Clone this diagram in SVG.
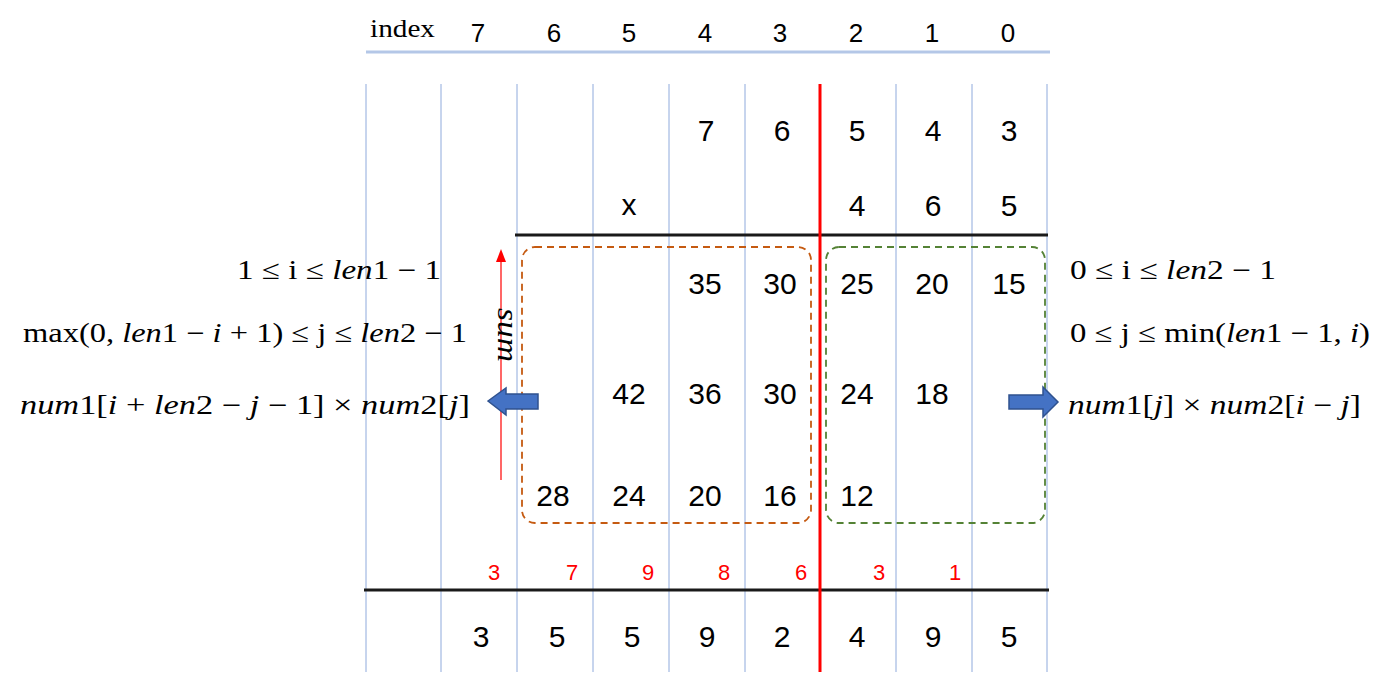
<svg xmlns="http://www.w3.org/2000/svg" width="1393" height="680" viewBox="0 0 1393 680">
<defs>
<style>
.grid{stroke:#8faadc;stroke-width:1}
.idx{font-family:"Liberation Sans",sans-serif;font-size:26px;text-anchor:middle;fill:#000}
.num{font-family:"Liberation Sans",sans-serif;font-size:30px;text-anchor:middle;fill:#000}
.carry{font-family:"Liberation Sans",sans-serif;font-size:22px;text-anchor:middle;fill:#ff0000}
.math{font-family:"Liberation Serif",serif;font-size:27px;fill:#000}
.it{font-style:italic}
.blk{stroke:#1a1a1a;stroke-width:3}
.barrow{fill:#4472c4;stroke:#2f528f;stroke-width:1.5}
</style>
</defs>
<rect width="1393" height="680" fill="#fff"/>

<g id="grid">
<line class="grid" x1="366" y1="84" x2="366" y2="672"/>
<line class="grid" x1="441" y1="84" x2="441" y2="672"/>
<line class="grid" x1="517" y1="84" x2="517" y2="672"/>
<line class="grid" x1="593" y1="84" x2="593" y2="672"/>
<line class="grid" x1="669" y1="84" x2="669" y2="672"/>
<line class="grid" x1="745" y1="84" x2="745" y2="672"/>
<line class="grid" x1="896" y1="84" x2="896" y2="672"/>
<line class="grid" x1="972" y1="84" x2="972" y2="672"/>
<line class="grid" x1="1047" y1="84" x2="1047" y2="672"/>
<line x1="366" y1="52" x2="1050" y2="52" stroke="#b4c7e7" stroke-width="3"/>
<line class="blk" x1="515" y1="235" x2="1048" y2="235"/>
<line class="blk" x1="364" y1="590" x2="1049" y2="590"/>
<line x1="820" y1="84" x2="820" y2="672" stroke="#ff0000" stroke-width="3"/>
</g>

<g id="index-row">
<text x="370" y="37" font-family="Liberation Serif,serif" font-size="25" fill="#000" textLength="65" lengthAdjust="spacingAndGlyphs">index</text>
<text class="idx" x="478" y="42">7</text>
<text class="idx" x="554" y="42">6</text>
<text class="idx" x="629" y="42">5</text>
<text class="idx" x="705" y="42">4</text>
<text class="idx" x="780" y="42">3</text>
<text class="idx" x="856" y="42">2</text>
<text class="idx" x="932" y="42">1</text>
<text class="idx" x="1008" y="42">0</text>
</g>

<g id="operands">
<text class="num" x="706" y="141">7</text>
<text class="num" x="782" y="141">6</text>
<text class="num" x="857" y="141">5</text>
<text class="num" x="933" y="141">4</text>
<text class="num" x="1009" y="141">3</text>
<text class="num" x="629" y="215">x</text>
<text class="num" x="857" y="216">4</text>
<text class="num" x="933" y="216">6</text>
<text class="num" x="1009" y="216">5</text>
</g>

<g id="products">
<text class="num" x="705" y="294">35</text>
<text class="num" x="780" y="294">30</text>
<text class="num" x="857" y="294">25</text>
<text class="num" x="932" y="294">20</text>
<text class="num" x="1009" y="294">15</text>
<text class="num" x="629" y="404">42</text>
<text class="num" x="705" y="404">36</text>
<text class="num" x="780" y="404">30</text>
<text class="num" x="857" y="404">24</text>
<text class="num" x="932" y="404">18</text>
<text class="num" x="553" y="506">28</text>
<text class="num" x="629" y="506">24</text>
<text class="num" x="705" y="506">20</text>
<text class="num" x="780" y="506">16</text>
<text class="num" x="857" y="506">12</text>
</g>

<g id="box-left">
<rect x="522" y="247" width="289" height="276" rx="13" fill="none" stroke="#c55a11" stroke-width="1.8" stroke-dasharray="7,5"/>
</g>
<g id="box-right">
<rect x="826" y="247" width="219" height="276" rx="13" fill="none" stroke="#548235" stroke-width="1.8" stroke-dasharray="7,5"/>
</g>

<g id="carries">
<text class="carry" x="494" y="580">3</text>
<text class="carry" x="572" y="580">7</text>
<text class="carry" x="648" y="580">9</text>
<text class="carry" x="724" y="580">8</text>
<text class="carry" x="801" y="580">6</text>
<text class="carry" x="879" y="580">3</text>
<text class="carry" x="955" y="580">1</text>
</g>

<g id="result">
<text class="num" x="481" y="647">3</text>
<text class="num" x="557" y="647">5</text>
<text class="num" x="632" y="647">5</text>
<text class="num" x="707" y="647">9</text>
<text class="num" x="782" y="647">2</text>
<text class="num" x="857" y="647">4</text>
<text class="num" x="933" y="647">9</text>
<text class="num" x="1009" y="647">5</text>
</g>

<g id="sum-arrow">
<line x1="501" y1="480" x2="501" y2="260" stroke="#ff0000" stroke-width="1.2"/>
<polygon points="501,249 496,262 506,262" fill="#ff0000"/>
<text transform="translate(498,308) rotate(90)" font-family="Liberation Serif,serif" font-style="italic" font-size="30" fill="#000" textLength="54" lengthAdjust="spacingAndGlyphs">sum</text>
</g>

<g id="left-formulas">
<text class="math" x="237" y="279" textLength="204" lengthAdjust="spacingAndGlyphs">1 ≤ i ≤ <tspan class="it">len</tspan>1 − 1</text>
<text class="math" x="23" y="342" textLength="444" lengthAdjust="spacingAndGlyphs">max(0, <tspan class="it">len</tspan>1 − <tspan class="it">i</tspan> + 1) ≤ j ≤ <tspan class="it">len</tspan>2 − 1</text>
<text class="math" x="20" y="414" textLength="450" lengthAdjust="spacingAndGlyphs"><tspan class="it">num</tspan>1[<tspan class="it">i</tspan> + <tspan class="it">len</tspan>2  −  <tspan class="it">j</tspan>  − 1] × <tspan class="it">num</tspan>2[<tspan class="it">j</tspan>]</text>
</g>

<g id="right-formulas">
<text class="math" x="1070" y="279" textLength="206" lengthAdjust="spacingAndGlyphs">0 ≤ i ≤ <tspan class="it">len</tspan>2 − 1</text>
<text class="math" x="1070" y="342" textLength="300" lengthAdjust="spacingAndGlyphs">0 ≤ j ≤ min(<tspan class="it">len</tspan>1 − 1, <tspan class="it">i</tspan>)</text>
<text class="math" x="1068" y="414" textLength="293" lengthAdjust="spacingAndGlyphs"><tspan class="it">num</tspan>1[<tspan class="it">j</tspan>] × <tspan class="it">num</tspan>2[<tspan class="it">i</tspan>  − <tspan class="it">j</tspan>]</text>
</g>

<g id="block-arrow-left">
<path class="barrow" d="M488,401 L506,388 L506,394 L538,394 L538,409 L506,409 L506,415 Z"/>
</g>
<g id="block-arrow-right">
<path class="barrow" d="M1009,395 L1043,395 L1043,387 L1058,402 L1043,417 L1043,409 L1009,409 Z"/>
</g>
</svg>
